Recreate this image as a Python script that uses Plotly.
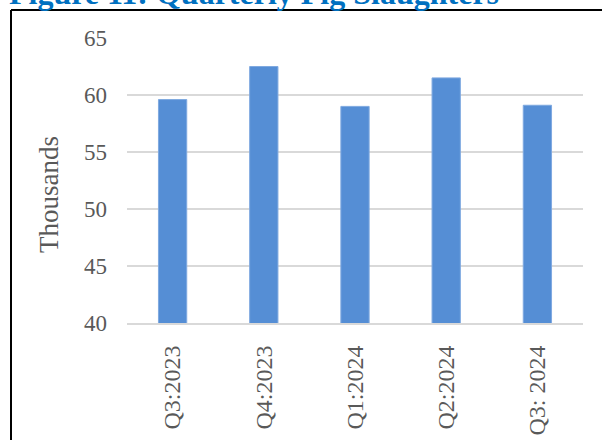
import plotly.graph_objects as go

# Quarterly pig slaughters (thousands)
quarters = ["Q3:2023", "Q4:2023", "Q1:2024", "Q2:2024", "Q3: 2024"]
slaughters = [59.6, 62.5, 59.0, 61.5, 59.1]
y_ticks = [40, 45, 50, 55, 60, 65]

W, H = 602, 440
L, R, T, B = 127, 19, 38, 117
pw, ph = W - L - R, H - T - B

def px_x(p):
    return (p - L) / pw

def px_y(p):
    return 1 - (p - T) / ph

serif = "Liberation Serif, Times New Roman, serif"
grey = "#595959"

fig = go.Figure(
    go.Bar(
        x=quarters,
        y=slaughters,
        marker=dict(color="#558ED5", line=dict(color="#7FA9E0", width=1)),
        width=0.31,
    )
)

fig.update_layout(
    width=W,
    height=H,
    margin=dict(l=L, r=R, t=T, b=B),
    paper_bgcolor="white",
    plot_bgcolor="white",
    showlegend=False,
    font=dict(family=serif, size=23, color=grey),
    xaxis=dict(
        automargin=False,
        tickangle=-90,
        showgrid=False,
        showline=True,
        linecolor="#D9D9D9",
        linewidth=2,
        ticks="",
        ticklabelstandoff=11,
        tickfont=dict(family=serif, size=24, color=grey),
    ),
    yaxis=dict(
        automargin=False,
        range=[40, 65],
        tickvals=y_ticks,
        showgrid=True,
        gridcolor="#D9D9D9",
        gridwidth=2,
        zeroline=False,
        showline=False,
        ticks="",
        ticklabelstandoff=19,
        tickfont=dict(family=serif, size=23, color=grey),
    ),
    annotations=[
        dict(
            text="Thousands",
            textangle=-90,
            xref="paper", yref="paper",
            x=px_x(49), y=px_y(195),
            xanchor="center", yanchor="middle",
            showarrow=False,
            font=dict(family=serif, size=27, color=grey),
        ),
        dict(
            text="<b>Figure 11: Quarterly Pig Slaughters</b>",
            xref="paper", yref="paper",
            x=px_x(7), y=px_y(13),
            xanchor="left", yanchor="bottom",
            showarrow=False,
            font=dict(family=serif, size=32, color="#0070C0"),
        ),
    ],
    shapes=[
        dict(type="line", xref="paper", yref="paper",
             x0=px_x(11), x1=px_x(W + 5), y0=px_y(10), y1=px_y(10),
             line=dict(color="black", width=2)),
        dict(type="line", xref="paper", yref="paper",
             x0=px_x(11), x1=px_x(11), y0=px_y(10), y1=px_y(H + 5),
             line=dict(color="black", width=2)),
    ],
)

fig.write_html("out.html")
